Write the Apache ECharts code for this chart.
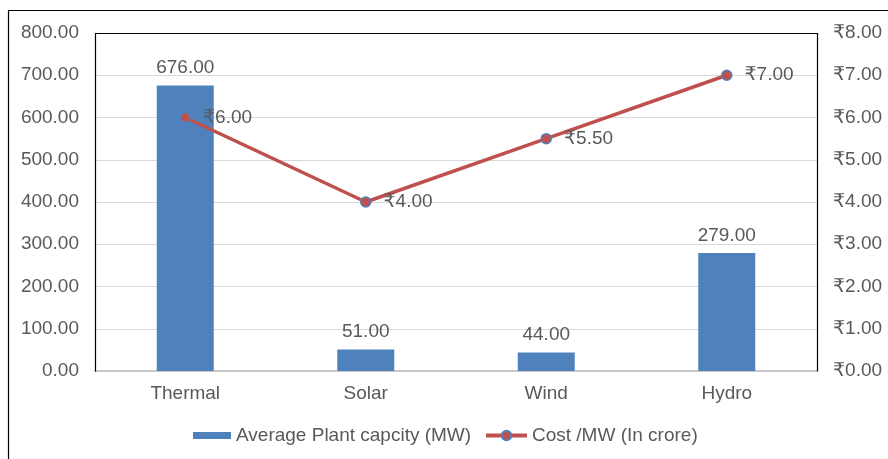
<!DOCTYPE html>
<html>
<head>
<meta charset="utf-8">
<script src="https://cdn.jsdelivr.net/npm/echarts@6/dist/echarts.min.js"></script>
<style>
  html, body { margin: 0; padding: 0; background: #fff; }
  #chart { width: 888px; height: 459px; }
</style>
</head>
<body>
<div id="chart"></div>
<script>
// Plant types on the category axis
const categories = ['Thermal', 'Solar', 'Wind', 'Hydro'];
// Average plant capacity in MW (bars, left axis)
const capacityMW = [676, 51, 44, 279];
// Cost per MW in crore rupees (line, right axis)
const costPerMW = [6.0, 4.0, 5.5, 7.0];

const barName = 'Average Plant capcity (MW)';
const lineName = 'Cost /MW (In crore)';

const textColor = '#595959';
const fontFamily = '"Liberation Sans", Arial, "DejaVu Sans", sans-serif';
const fontSize = 19;
const barColor = '#4F81BD';
const lineColor = '#C0504D';

// plot area box
const G = { left: 95, right: 71, top: 33, bottom: 88 };
const W = 888, H = 459;
const px0 = G.left + 0.5, py0 = G.top + 0.5;
const px1 = W - G.right + 0.5, py1 = H - G.bottom + 0.5;

const chart = echarts.init(document.getElementById('chart'));
chart.setOption({
  animation: false,
  textStyle: { fontFamily: fontFamily, color: textColor },
  graphic: [
    {
      // outer chart frame
      type: 'rect',
      shape: { x: 8.5, y: 10.5, width: 1000, height: 1000 },
      style: { fill: 'none', stroke: '#000', lineWidth: 1.2 },
      silent: true
    },
    {
      // plot area border on left, top and right
      type: 'polyline',
      shape: { points: [[px0, py1], [px0, py0], [px1, py0], [px1, py1]] },
      style: { fill: 'none', stroke: '#000', lineWidth: 1.2 },
      z: 1,
      silent: true
    }
  ],
  grid: G,
  legend: [
    {
      left: 193, bottom: 14, padding: 0,
      itemWidth: 38, itemHeight: 7,
      textStyle: { fontSize: fontSize, color: textColor, fontFamily: fontFamily },
      data: [{ name: barName, icon: 'rect' }]
    },
    {
      left: 484, bottom: 14, padding: 0,
      itemWidth: 41, itemHeight: 12,
      lineStyle: { width: 4, color: lineColor },
      textStyle: { fontSize: fontSize, color: textColor, fontFamily: fontFamily },
      data: [{ name: lineName }]
    }
  ],
  xAxis: {
    type: 'category',
    data: categories,
    axisLine: { lineStyle: { color: '#bfbfbf', width: 1.5 } },
    axisTick: { show: false },
    axisLabel: { fontSize: fontSize, color: textColor, margin: 13 }
  },
  yAxis: [
    {
      type: 'value', min: 0, max: 800, interval: 100,
      axisLine: { show: false },
      axisTick: { show: false },
      splitLine: { lineStyle: { color: '#d9d9d9', width: 1 } },
      axisLabel: {
        fontSize: fontSize, color: textColor, margin: 16,
        formatter: v => v.toFixed(2)
      }
    },
    {
      type: 'value', min: 0, max: 8, interval: 1,
      axisLine: { show: false },
      axisTick: { show: false },
      splitLine: { show: false },
      axisLabel: {
        fontSize: fontSize, color: textColor, margin: 16,
        formatter: v => '₹' + v.toFixed(2)
      }
    }
  ],
  series: [
    {
      name: barName,
      type: 'bar',
      data: capacityMW,
      barWidth: 57,
      itemStyle: { color: barColor },
      label: {
        show: true, position: 'top', distance: 8,
        fontSize: fontSize, color: textColor,
        formatter: p => p.value.toFixed(2)
      }
    },
    {
      name: lineName,
      type: 'line',
      yAxisIndex: 1,
      data: costPerMW,
      symbol: 'circle',
      symbolSize: 10,
      lineStyle: { color: lineColor, width: 3.5 },
      itemStyle: { color: lineColor, borderColor: barColor, borderWidth: 1.5 },
      label: {
        show: true, position: 'right', distance: 12,
        fontSize: fontSize, color: textColor,
        formatter: p => '₹' + p.value.toFixed(2)
      }
    }
  ]
});
</script>
</body>
</html>
